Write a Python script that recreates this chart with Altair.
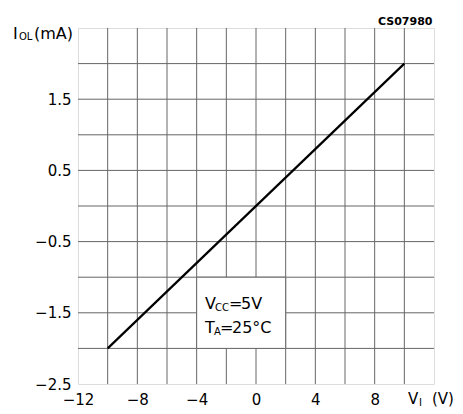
import altair as alt
import pandas as pd

# Data
line_x = [-10, 10]
line_y = [-2.0, 2.0]
x_grid = list(range(-12, 13, 2))
y_grid = [-2.5, -2.0, -1.5, -1.0, -0.5, 0.0, 0.5, 1.0, 1.5, 2.0, 2.5]
x_labels = [-12, -8, -4, 0, 4, 8]
y_labels = [-2.5, -1.5, -0.5, 0.5, 1.5]
box_x = [-4, 2]
box_y = [-2.0, -1.0]

FONT = "DejaVu Sans"
GRID = "#666666"

line_df = pd.DataFrame({"x": line_x, "y": line_y})
box_df = pd.DataFrame({"x": [box_x[0]], "x2": [box_x[1]], "y": [box_y[0]], "y2": [box_y[1]]})
vgrid_df = pd.DataFrame({"x": [v for v in x_grid if -12 < v < 12]})
hgrid_df = pd.DataFrame({"y": [v for v in y_grid if -2.5 < v < 2.5]})
one = pd.DataFrame({"a": [0]})

xscale = alt.Scale(domain=[-12, 12], nice=False, zero=False)
yscale = alt.Scale(domain=[-2.5, 2.5], nice=False, zero=False)

xaxis = alt.Axis(
    values=x_labels, title=None, grid=False,
    domain=False, ticks=False, labelFont=FONT, labelFontSize=15, labelColor="black",
    labelPadding=8, labelOverlap=False, labelFlush=False,
    labelExpr="replace(format(datum.value, 'd'), /[-\u2212]/, '\u2212')",
)
yaxis = alt.Axis(
    values=y_labels, title=None, grid=False,
    domain=False, ticks=False, labelFont=FONT, labelFontSize=15, labelColor="black",
    labelPadding=7, labelOverlap=False, labelFlush=False,
    labelExpr="replace(format(datum.value, '.1f'), /[-\u2212]/, '\u2212')",
)

vgrid = alt.Chart(vgrid_df).mark_rule(color=GRID, strokeWidth=1).encode(
    x=alt.X("x:Q", scale=xscale, axis=xaxis)
)
hgrid = alt.Chart(hgrid_df).mark_rule(color=GRID, strokeWidth=1).encode(
    y=alt.Y("y:Q", scale=yscale, axis=yaxis)
)

line = alt.Chart(line_df).mark_line(color="black", strokeWidth=2.2).encode(
    x=alt.X("x:Q", scale=xscale, axis=xaxis),
    y=alt.Y("y:Q", scale=yscale, axis=yaxis),
)

box = alt.Chart(box_df).mark_rect(fill="white", stroke=GRID, strokeWidth=1).encode(
    x=alt.X("x:Q", scale=xscale, axis=xaxis), x2="x2:Q",
    y=alt.Y("y:Q", scale=yscale, axis=yaxis), y2="y2:Q",
)


def txt(s, x, y, size, weight="normal"):
    return alt.Chart(one).mark_text(
        text=s, font=FONT, fontSize=size, fontWeight=weight, color="black",
        align="left", baseline="alphabetic",
    ).encode(x=alt.value(x - 78), y=alt.value(y - 28))


texts = [
    # annotation inside plot
    txt("V", 205, 309, 16),
    txt("CC", 215, 311, 10),
    txt("=", 229, 309, 16),
    txt("5V", 241, 309, 16),
    txt("T", 205, 333, 16),
    txt("A", 214, 335, 10),
    txt("=", 220, 333, 16),
    txt("25°C", 232, 333, 16),
    # y title
    txt("I", 13, 39, 16),
    txt("OL", 19, 40, 10),
    txt("(mA)", 34, 39, 16),
    # x title
    txt("V", 408, 404, 15),
    txt("I", 419, 406, 10),
    txt("(V)", 432, 404, 15),
    # code
    txt("CS07980", 378, 25, 11, "bold"),
]

chart = alt.layer(vgrid, hgrid, box, line, *texts).properties(
    width=356, height=356,
    autosize=alt.AutoSizeParams(type="none"),
    padding={"left": 78, "top": 28, "right": 29, "bottom": 30},
).configure_view(stroke="black", strokeWidth=2).configure(background="white")

chart.save("out.html", embed_options={"renderer": "svg", "actions": False})
